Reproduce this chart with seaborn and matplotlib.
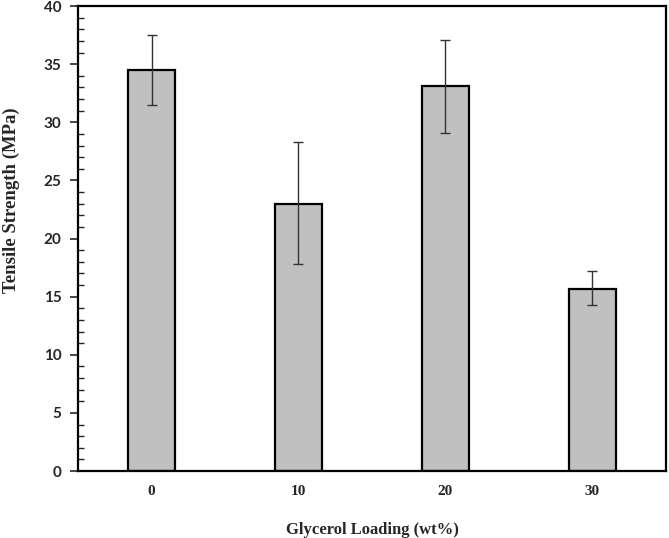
import numpy as np
import pandas as pd
import seaborn as sns
import matplotlib.pyplot as plt
from matplotlib.ticker import MultipleLocator

# data
loading = ["0", "10", "20", "30"]
strength = [34.5, 23.0, 33.1, 15.7]
err_low = [3.0, 5.2, 4.0, 1.4]
err_high = [3.0, 5.3, 4.0, 1.5]

df = pd.DataFrame({"loading": loading, "strength": strength})

sns.set_style("ticks")
plt.rcParams["font.family"] = ["Liberation Serif", "DejaVu Serif"]

fig = plt.figure(figsize=(6.69, 5.38), dpi=100)
ax = fig.add_axes([0.1166, 0.1245, 0.8789, 0.8643])

sns.barplot(data=df, x="loading", y="strength", color="#c0c0c0",
            saturation=1, width=0.32, edgecolor="black", linewidth=1.6,
            errorbar=None, ax=ax)

xpos = ax.get_xticks()
ax.errorbar(xpos, df["strength"], yerr=[err_low, err_high], fmt="none",
            ecolor="#333333", elinewidth=1, capsize=3.5, capthick=1)

ax.set_xlim(-0.5, 3.5)
ax.set_ylim(0, 40)
ax.yaxis.set_major_locator(MultipleLocator(5))
ax.yaxis.set_minor_locator(MultipleLocator(1))

for s in ax.spines.values():
    s.set_linewidth(1.6)
    s.set_color("black")
    s.set_visible(True)

ax.tick_params(axis="y", which="major", direction="out", length=6, width=1.2, pad=6)
ax.tick_params(axis="y", which="minor", direction="in", length=4, width=1)
ax.tick_params(axis="x", which="major", length=0, pad=10, labelsize=11)
for lab in ax.get_xticklabels():
    lab.set_fontweight("bold")
for lab in ax.get_yticklabels():
    lab.set_fontweight("bold")
    lab.set_fontfamily("Lato")
    lab.set_fontsize(11)

ax.set_xlabel("Glycerol Loading (wt%)", fontsize=12, fontweight="bold", labelpad=17)
ax.set_ylabel("Tensile Strength (MPa)", fontsize=13.5, fontweight="bold")
ax.yaxis.set_label_coords(-0.099, 0.582)

fig.savefig("out.png", dpi=100)
